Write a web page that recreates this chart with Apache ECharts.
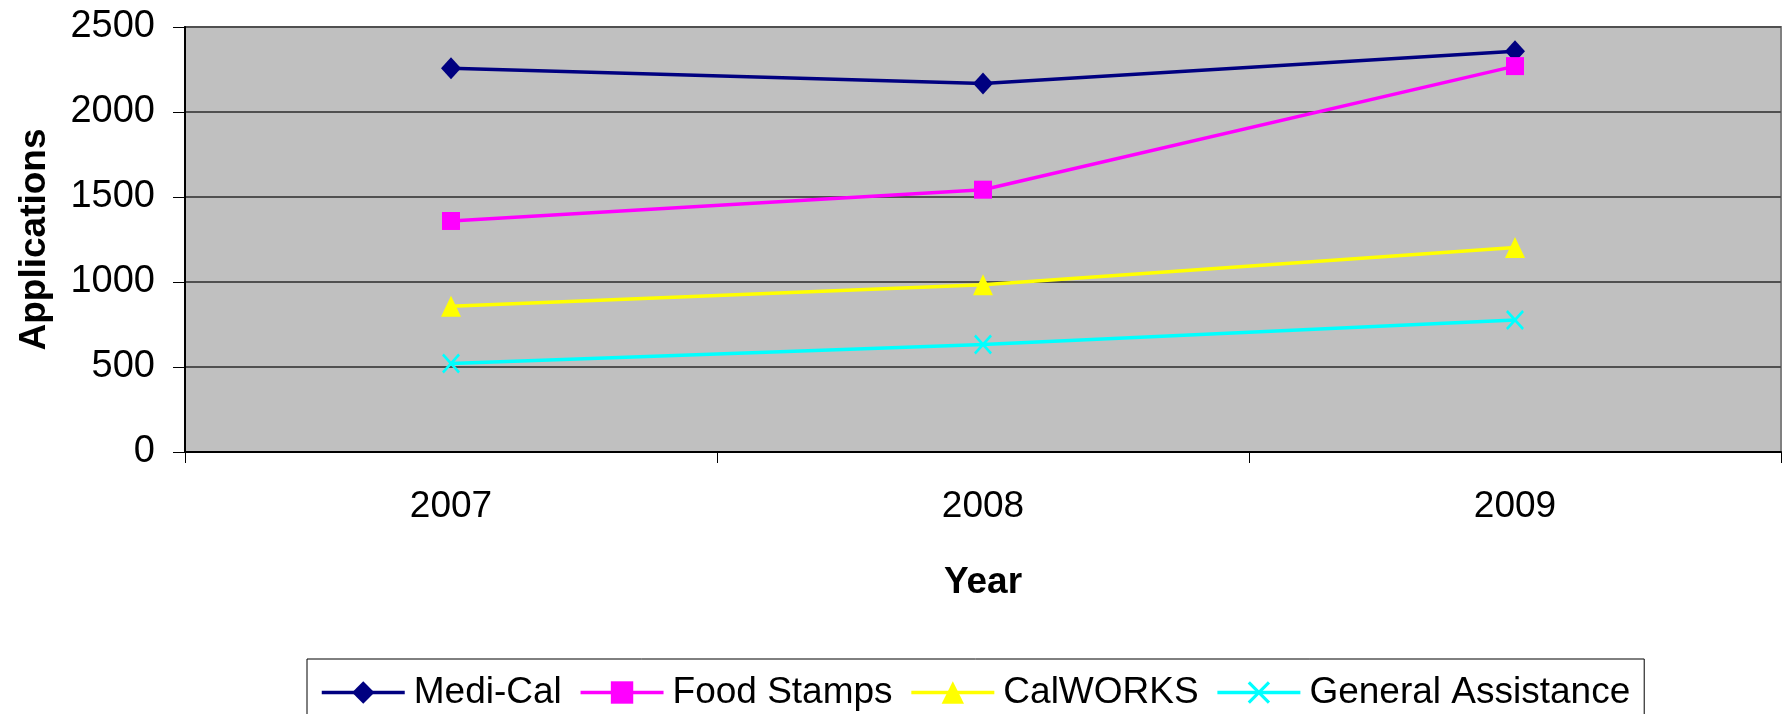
<!DOCTYPE html>
<html>
<head>
<meta charset="utf-8">
<script src="https://cdn.jsdelivr.net/npm/echarts@6/dist/echarts.min.js"></script>
<style>html,body{margin:0;padding:0;background:#fff}#c{width:1784px;height:714px}</style>
</head>
<body>
<div id="c"></div>
<script>
const years = ['2007', '2008', '2009'];
const mediCal = [2257, 2167, 2357];
const foodStamps = [1359, 1543, 2270];
const calWorks = [857, 984, 1203];
const generalAssistance = [520, 633, 776];
const yTicks = { min: 0, max: 2500, interval: 500 };

const FONT = '"Liberation Sans", Arial, sans-serif';
const xPath = 'path://M0,2L2,0L10,8L18,0L20,2L12,10L20,18L18,20L10,12L2,20L0,18L8,10Z';

function series(name, data, color, symbol, size) {
  return {
    name, type: 'line', data, symbol, symbolSize: size,
    showSymbol: true, animation: false,
    lineStyle: { color, width: 3.5 },
    itemStyle: { color, borderWidth: 0 },
    emphasis: { disabled: true }
  };
}

const chart = echarts.init(document.getElementById('c'), null, { renderer: 'canvas' });
chart.setOption({
  animation: false,
  backgroundColor: '#ffffff',
  grid: {
    left: 185, top: 27, right: 3, bottom: 262,
    show: true, backgroundColor: '#C0C0C0', borderColor: '#808080', borderWidth: 2
  },
  legend: {
    left: 307, top: 659,
    padding: [15, 14, 20, 13],
    itemWidth: 83, itemHeight: 28, itemGap: 17,
    borderColor: '#000', borderWidth: 1,
    lineStyle: { width: 3.5 },
    textStyle: { fontFamily: FONT, fontSize: 37, color: '#000', padding: [0, 0, 0, 4] },
    data: ['Medi-Cal', 'Food Stamps', 'CalWORKS', 'General Assistance']
  },
  xAxis: {
    type: 'category', data: years, boundaryGap: true,
    name: 'Year', nameLocation: 'middle', nameGap: 112,
    nameTextStyle: { fontFamily: FONT, fontSize: 37, fontWeight: 'bold', color: '#000' },
    axisLine: { lineStyle: { color: '#000', width: 2 } },
    axisTick: { show: true, length: 11, lineStyle: { color: '#000', width: 1 } },
    axisLabel: { fontFamily: FONT, fontSize: 37, color: '#000', margin: 36 },
    splitLine: { show: false }
  },
  yAxis: {
    type: 'value', min: yTicks.min, max: yTicks.max, interval: yTicks.interval,
    name: 'Applications', nameLocation: 'middle', nameGap: 132, nameRotate: 90,
    nameTextStyle: { fontFamily: FONT, fontSize: 37, fontWeight: 'bold', color: '#000' },
    axisLine: { show: true, lineStyle: { color: '#000', width: 2 } },
    axisTick: { show: true, length: 12, lineStyle: { color: '#000', width: 1 } },
    axisLabel: { fontFamily: FONT, fontSize: 38, color: '#000', margin: 30, formatter: v => String(v) },
    splitLine: { show: true, lineStyle: { color: '#505050', width: 2 } }
  },
  series: [
    series('Medi-Cal', mediCal, '#000080', 'diamond', [20, 22]),
    series('Food Stamps', foodStamps, '#FF00FF', 'rect', [18, 18]),
    series('CalWORKS', calWorks, '#FFFF00', 'triangle', [20, 21]),
    series('General Assistance', generalAssistance, '#00FFFF', xPath, [18, 20])
  ]
});
</script>
</body>
</html>
